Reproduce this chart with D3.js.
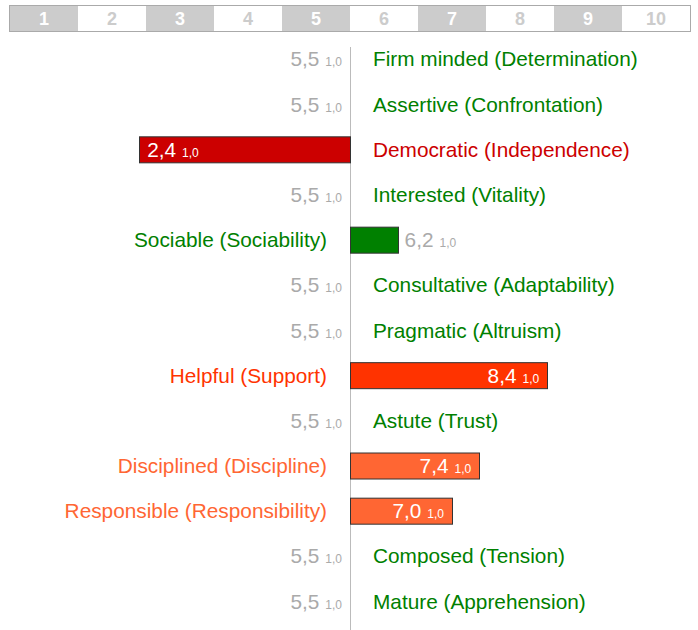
<!DOCTYPE html>
<html>
<head>
<meta charset="utf-8">
<script src="https://cdn.jsdelivr.net/npm/d3@7"></script>
<style>
  body { margin: 0; background: #fff; }
  text { font-family: "Liberation Sans", Arial, sans-serif; }
</style>
</head>
<body>
<div class="container"></div>
<script>
const WIDTH = 698;
const HEIGHT = 630;
const MID = 5.5;

var labels = [
  "Firm minded (Determination)", "Assertive (Confrontation)", "Democratic (Independence)",
  "Interested (Vitality)", "Sociable (Sociability)", "Consultative (Adaptability)",
  "Pragmatic (Altruism)", "Helpful (Support)", "Astute (Trust)",
  "Disciplined (Discipline)", "Responsible (Responsibility)", "Composed (Tension)",
  "Mature (Apprehension)"
];
var values = [5.5, 5.5, 2.4, 5.5, 6.2, 5.5, 5.5, 8.4, 5.5, 7.4, 7.0, 5.5, 5.5];
var errors = [1.0, 1.0, 1.0, 1.0, 1.0, 1.0, 1.0, 1.0, 1.0, 1.0, 1.0, 1.0, 1.0];
var colours = ["#008000", "#008000", "#cc0000", "#008000", "#008000", "#008000",
  "#008000", "#ff3300", "#008000", "#ff6633", "#ff6633", "#008000", "#008000"];
var ticks = [1, 2, 3, 4, 5, 6, 7, 8, 9, 10];

var fmt = function(v){ return d3.format(".1f")(v).replace(".", ","); };

var svg = d3.select('.container').append('svg')
  .attr('width', WIDTH)
  .attr('height', HEIGHT);

var x = d3.scaleLinear().domain([0.5, 10.5]).range([10, 690]);
var y = d3.scaleBand().domain(d3.range(labels.length)).range([36.4, 623.6]);

// scale strip on top
var strip = svg.append('g');
strip.selectAll('rect').data(ticks).enter().append('rect')
  .attr('x', function(d){ return x(d - 0.5); })
  .attr('y', 6)
  .attr('width', function(d){ return x(d + 0.5) - x(d - 0.5); })
  .attr('height', 25)
  .attr('fill', function(d, i){ return i % 2 == 0 ? '#cccccc' : '#ffffff'; });
strip.append('rect')
  .attr('x', x(0.5) - 0.5).attr('y', 5.5)
  .attr('width', x(10.5) - x(0.5) + 1).attr('height', 26)
  .attr('fill', 'none').attr('stroke', '#aaaaaa');
strip.selectAll('text').data(ticks).enter().append('text')
  .attr('x', function(d){ return x(d); })
  .attr('y', 25)
  .attr('text-anchor', 'middle')
  .attr('font-size', 18)
  .attr('font-weight', 'bold')
  .attr('fill', function(d, i){ return i % 2 == 0 ? '#ffffff' : '#cccccc'; })
  .text(function(d){ return d; });

// centre line
svg.append('line')
  .attr('x1', x(MID) + 0.5).attr('x2', x(MID) + 0.5)
  .attr('y1', 47).attr('y2', HEIGHT)
  .attr('stroke', '#bbbbbb');

var rows = svg.selectAll('.row').data(labels).enter().append('g')
  .attr('class', 'row')
  .attr('transform', function(d, i){ return 'translate(0,' + (y(i) + y.bandwidth() / 2) + ')'; });

rows.each(function(d, i){
  var g = d3.select(this);
  var v = values[i];
  var col = colours[i];

  if (v != MID) {
    var x0 = Math.min(x(v), x(MID)), x1 = Math.max(x(v), x(MID));
    g.append('rect')
      .attr('x', Math.round(x0) + 0.5).attr('y', -12.5)
      .attr('width', Math.round(x1) - Math.round(x0)).attr('height', 26)
      .attr('fill', col).attr('stroke', '#333333');
  }

  // category label
  var right = v > MID;
  g.append('text')
    .attr('x', right ? x(MID) - 23 : x(MID) + 23)
    .attr('y', 7.5)
    .attr('text-anchor', right ? 'end' : 'start')
    .attr('font-size', 20.8)
    .attr('fill', col)
    .text(d);

  // value label
  var vx, anchor, fill;
  if (v == MID) { vx = x(MID) - 8; anchor = 'end'; fill = '#aaaaaa'; }
  else if (v < MID) { vx = x(v) + 8; anchor = 'start'; fill = '#ffffff'; }
  else if (x(v) - x(MID) > 80) { vx = x(v) - 8; anchor = 'end'; fill = '#ffffff'; }
  else { vx = x(v) + 7; anchor = 'start'; fill = '#aaaaaa'; }
  var t = g.append('text')
    .attr('x', vx).attr('y', 7.5)
    .attr('text-anchor', anchor)
    .attr('font-size', 20.8)
    .attr('fill', fill)
    .text(fmt(v));
  t.append('tspan')
    .attr('font-size', 12)
    .attr('dx', 6)
    .text(fmt(errors[i]));
});
</script>
</body>
</html>
